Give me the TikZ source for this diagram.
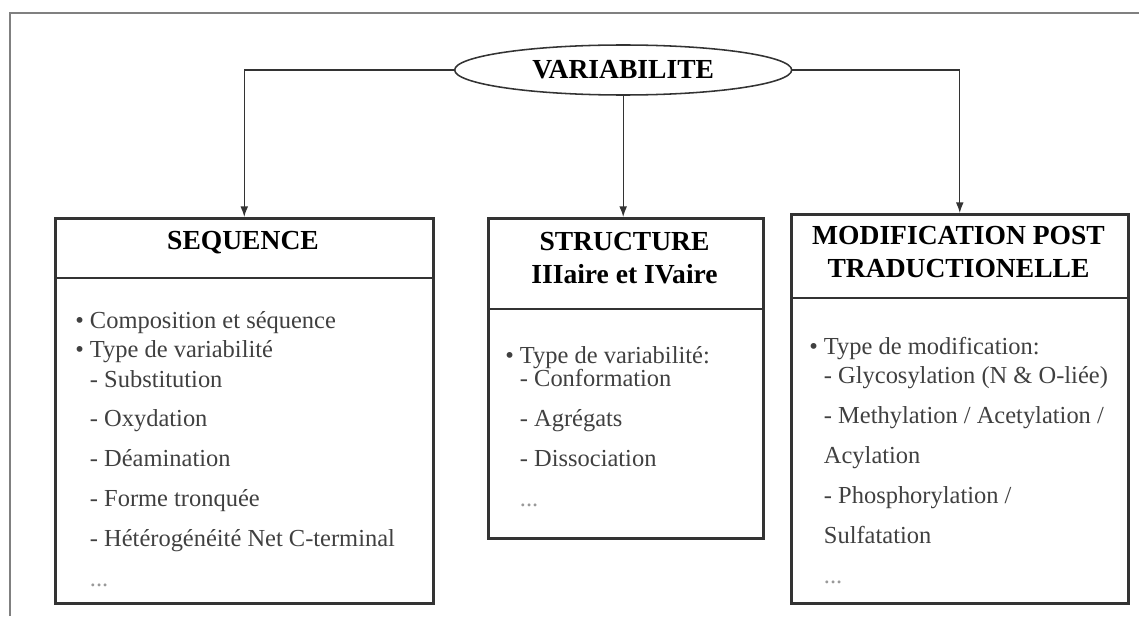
\documentclass[tikz,border=0pt]{standalone}
\usepackage{fontspec}
\setmainfont{Liberation Serif}
\usetikzlibrary{shapes.geometric, arrows.meta}

\newcommand{\ind}{\hphantom{\textbullet\ }}

\begin{document}
\begin{tikzpicture}[
  box/.style={draw=black!80, line width=1.8pt, inner sep=0pt, anchor=north west},
  divider/.style={draw=black!80, line width=1.5pt},
  title/.style={font=\fontsize{19.6}{23.5}\selectfont\bfseries, align=center, inner sep=0pt},
  body/.style={font=\fontsize{17.4}{20.9}\selectfont, text=black!75, align=left, inner sep=0pt, anchor=north west},
  link/.style={-{Latex[length=7.5pt, width=5.5pt]}, line width=0.9pt, draw=black!80}]

\useasboundingbox (0,0) rectangle (28.475,15.4);

% Frame
\draw[line width=1.4pt, black!50] (0.25,0) -- (0.25,15.075) -- (28.475,15.075);

% Root
\node[ellipse, draw=black!80, line width=1.1pt, minimum width=8.425cm, minimum height=1.25cm, inner sep=0pt, font=\fontsize{19.6}{23.5}\selectfont\bfseries] (var) at (15.58, 13.65) {VARIABILITE};

% Sequence
\node[box, minimum width=9.45cm, minimum height=9.625cm] (seq) at (1.35, 9.975) {};
\draw[divider] (1.35, 8.45) -- (10.8, 8.45);
\node[title] (seqtitle) at (6.075, 9.33) {SEQUENCE};
\node[body] (seqtext) at (1.875, 7.625) {%
\textbullet{} Composition et séquence\\
\textbullet{} Type de variabilité\\
\ind- Substitution\\[7.5pt]
\ind- Oxydation\\[7.5pt]
\ind- Déamination\\[7.5pt]
\ind- Forme tronquée\\[7.5pt]
\ind- Hétérogénéité Net C-terminal\\[7.5pt]
\ind\textcolor{black!40}{...}};

% Structure
\node[box, minimum width=6.875cm, minimum height=8cm] (mid) at (12.175, 9.975) {};
\draw[divider] (12.175, 7.675) -- (19.05, 7.675);
\node[title] (midtitle) at (15.6125, 8.95) {STRUCTURE\\IIIaire et IVaire};
\node[body] (midtext) at (12.625, 6.75) {%
\textbullet{} Type de variabilité:\\[-4.5pt]
\ind- Conformation\\[7.5pt]
\ind- Agrégats\\[7.5pt]
\ind- Dissociation\\[7.5pt]
\ind\textcolor{black!40}{...}};

% Modification post traductionelle
\node[box, minimum width=8.425cm, minimum height=9.725cm] (mod) at (19.75, 10.075) {};
\draw[divider] (19.75, 7.95) -- (28.175, 7.95);
\node[title] (modtitle) at (23.9625, 9.1) {MODIFICATION POST\\TRADUCTIONELLE};
\node[body] (modtext) at (20.225, 6.975) {%
\textbullet{} Type de modification:\\
\ind- Glycosylation (N \& O-liée)\\[7.5pt]
\ind- Methylation / Acetylation /\\[7.5pt]
\ind Acylation\\[7.5pt]
\ind- Phosphorylation /\\[7.5pt]
\ind Sulfatation\\[7.5pt]
\ind\textcolor{black!40}{...}};

% Links
\draw[link] (var.west) -| (seq.north);
\draw[link] (var.south) -- (var.south |- mid.north);
\draw[link] (var.east) -| (mod.north);
\end{tikzpicture}
\end{document}
